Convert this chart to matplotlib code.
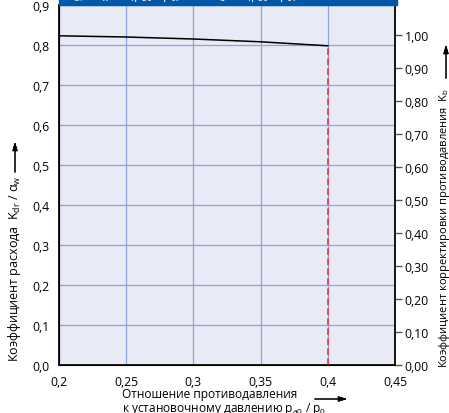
import matplotlib
matplotlib.use("Agg")
import matplotlib.pyplot as plt
from matplotlib.patches import Rectangle

plt.rcParams['font.family'] = ['Open Sans', 'DejaVu Sans']
plt.rcParams['mathtext.fontset'] = 'custom'
plt.rcParams['mathtext.rm'] = 'Open Sans'
plt.rcParams['mathtext.it'] = 'Open Sans'

# данные
ratio = [0.20, 0.25, 0.30, 0.35, 0.40]          # p_a0 / p_0
kdr = [0.823, 0.820, 0.815, 0.808, 0.798]      # K_dr / alpha_w
limit_x = 0.40

x_ticks = [0.2, 0.25, 0.3, 0.35, 0.4, 0.45]
x_labels = ['0,2', '0,25', '0,3', '0,35', '0,4', '0,45']
y_ticks = [0.0, 0.1, 0.2, 0.3, 0.4, 0.5, 0.6, 0.7, 0.8, 0.9]
y_labels = ['0,0', '0,1', '0,2', '0,3', '0,4', '0,5', '0,6', '0,7', '0,8', '0,9']
kb_ticks = [0.0, 0.1, 0.2, 0.3, 0.4, 0.5, 0.6, 0.7, 0.8, 0.9, 1.0]
kb_labels = ['0,00', '0,10', '0,20', '0,30', '0,40', '0,50', '0,60', '0,70', '0,80', '0,90', '1,00']

W, H = 449, 414
fig = plt.figure(figsize=(W / 100, H / 100), dpi=100)
ax = fig.add_axes([59 / W, 48 / H, 336 / W, 360 / H])
ax.set_facecolor('#e8eaf6')

ax.plot(ratio, kdr, color='black', lw=1.1, zorder=3)
ax.vlines(limit_x, 0, kdr[-1], colors='#e8383d', linestyles=(0, (4, 2)), lw=1.2, zorder=3)

ax.set_xlim(0.2, 0.45)
ax.set_ylim(0, 0.9)
ax.set_xticks(x_ticks)
ax.set_xticklabels(x_labels)
ax.set_yticks(y_ticks)
ax.set_yticklabels(y_labels)
ax.tick_params(axis='both', length=0, labelsize=8.8, pad=7)
ax.grid(True, color='#8ea4dc', lw=0.9)
ax.set_axisbelow(True)
for s in ['left', 'bottom', 'right']:
    ax.spines[s].set_linewidth(1.4)
    ax.spines[s].set_color('#1a1a1a')
ax.spines['top'].set_visible(False)

ax2 = ax.twinx()
ax2.set_ylim(0, 360 / 330)
ax2.set_yticks(kb_ticks)
ax2.set_yticklabels(kb_labels)
ax2.tick_params(axis='y', length=5, width=1, color='#555555', labelsize=8.8, pad=2)
ax2.spines['right'].set_linewidth(1.4)
ax2.spines['right'].set_color('#1a1a1a')
ax2.spines['top'].set_visible(False)

# синяя плашка сверху (обрезана)
fig.patches.append(Rectangle((59 / W, (H - 6) / H), 338 / W, 6 / H,
                             transform=fig.transFigure, color='#0058a8', zorder=5))
fig.text(66 / W, (H + 1) / H,
         r'$K_{dr}$ / $\alpha_w$ = f (p$_{a0}$ / p$_0$)          $K_b$ = f (p$_{a0}$ / p$_0$)',
         color='white', fontsize=9, va='baseline', ha='left', zorder=6)

# подписи осей
fig.text(15 / W, (H - 362) / H, r'Коэффициент расхода  $K_{dr}$ / $\alpha_w$',
         rotation=90, fontsize=9, ha='center', va='bottom')
fig.text(444 / W, (H - 368) / H, r'Коэффициент корректировки противодавления  $K_b$',
         rotation=90, fontsize=8, ha='center', va='bottom')
fig.text(122 / W, (H - 395) / H, 'Отношение противодавления',
         fontsize=8.6, ha='left', va='center')
fig.text(122 / W, (H - 409) / H, r'к установочному давлению p$_{a0}$ / p$_0$',
         fontsize=8.6, ha='left', va='center')

arrow = dict(arrowstyle='-|>,head_length=0.5,head_width=0.15', color='black', lw=0.8)
fig.add_artist(plt.annotate('', xy=(15, H - 140), xytext=(15, H - 176),
                            xycoords='figure pixels', arrowprops=arrow))
fig.add_artist(plt.annotate('', xy=(446, H - 43), xytext=(446, H - 82),
                            xycoords='figure pixels', arrowprops=arrow))
fig.add_artist(plt.annotate('', xy=(350, H - 400), xytext=(312, H - 400),
                            xycoords='figure pixels', arrowprops=arrow))

fig.savefig('out.png', dpi=100)
